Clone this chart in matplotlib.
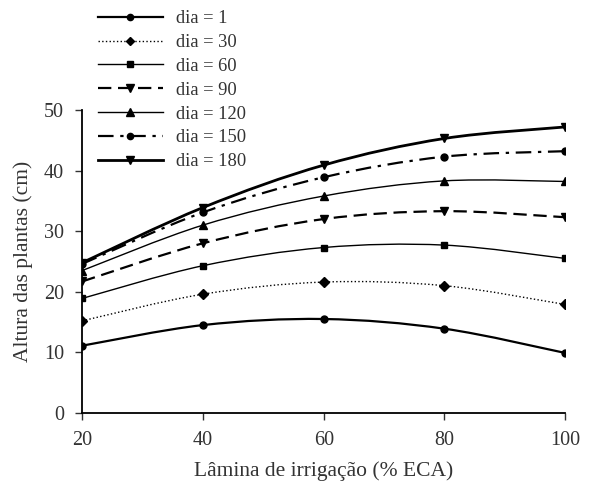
import matplotlib.pyplot as plt
import numpy as np
from matplotlib.path import Path
from matplotlib.patches import PathPatch
from matplotlib.lines import Line2D

plt.rcParams['font.family'] = ['Liberation Serif', 'DejaVu Serif']

lamina = [20, 40, 60, 80, 100]
dias = ['dia = 1', 'dia = 30', 'dia = 60', 'dia = 90', 'dia = 120', 'dia = 150', 'dia = 180']
altura = [
    [11.1, 14.5, 15.5, 13.9, 9.9],
    [15.2, 19.6, 21.6, 21.0, 17.9],
    [18.9, 24.3, 27.3, 27.7, 25.5],
    [21.7, 28.0, 32.0, 33.3, 32.3],
    [23.5, 31.0, 35.8, 38.3, 38.2],
    [24.6, 33.1, 38.9, 42.3, 43.2],
    [24.8, 33.9, 40.9, 45.3, 47.2],
]

# marker, linestyle, linewidth, markersize
styles = [
    ('o', '-', 1.6, 5),
    ('D', ':', 1.0, 5),
    ('s', '-', 1.0, 5),
    ('v', (0, (6, 3)), 1.6, 6),
    ('^', '-', 1.0, 6),
    ('o', (0, (7, 3, 1.5, 3)), 1.6, 5),
    ('v', '-', 2.0, 6),
]


def smooth_path(x, y, k=1 / 6):
    # Catmull-Rom style bezier segments through the points
    x = np.asarray(x, float)
    y = np.asarray(y, float)
    pts = np.column_stack([x, y])
    n = len(pts)
    verts = [pts[0]]
    codes = [Path.MOVETO]
    for i in range(n - 1):
        p0 = pts[i - 1] if i > 0 else pts[i]
        p1 = pts[i]
        p2 = pts[i + 1]
        p3 = pts[i + 2] if i + 2 < n else pts[i + 1]
        c1 = p1 + (p2 - p0) * k
        c2 = p2 - (p3 - p1) * k
        verts += [c1, c2, p2]
        codes += [Path.CURVE4] * 3
    return Path(verts, codes)


fig = plt.figure(figsize=(6, 4.91), dpi=100)
ax = fig.add_axes([0.137, 0.159, 0.805, 0.617])

handles = []
for vals, label, (mk, ls, lw, ms) in zip(altura, dias, styles):
    patch = PathPatch(smooth_path(lamina, vals), facecolor='none',
                      edgecolor='black', lw=lw, linestyle=ls)
    ax.add_patch(patch)
    ax.plot(lamina, vals, linestyle='none', marker=mk, color='black', markersize=ms)
    handles.append(Line2D([], [], color='black', lw=lw, linestyle=ls,
                          marker=mk, markersize=ms - 0.5))

ax.set_xlim(20, 100)
ax.set_ylim(0, 50)
ax.set_xticks(lamina)
ax.set_yticks(range(0, 51, 10))
ax.spines['top'].set_visible(False)
ax.spines['right'].set_visible(False)
ax.spines['left'].set_linewidth(1.3)
ax.spines['bottom'].set_linewidth(1.3)
ax.tick_params(labelsize=14.5, colors='#333333', length=5, width=1, pad=8)
ax.set_xlabel('Lâmina de irrigação (% ECA)', fontsize=15.5, color='#333333', labelpad=8)
ax.set_ylabel('Altura das plantas (cm)', fontsize=15.5, color='#333333', labelpad=8)

leg = fig.legend(handles, dias, loc='upper left', bbox_to_anchor=(0.148, 0.998),
                 frameon=False, fontsize=13.3, handlelength=3.5, handletextpad=0.7,
                 labelspacing=0.37, borderaxespad=0.1)
for t in leg.get_texts():
    t.set_color('#333333')

fig.savefig('out.png', dpi=100)
